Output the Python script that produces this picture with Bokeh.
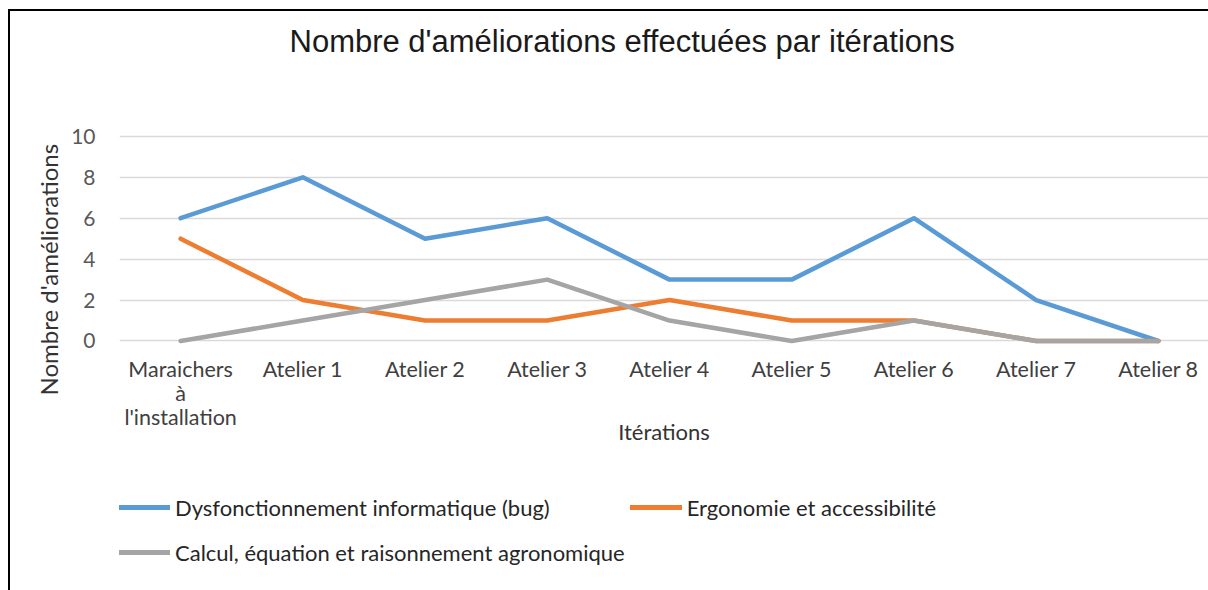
from bokeh.plotting import figure
from bokeh.layouts import column
from bokeh.models import Range1d, FixedTicker, Legend, LegendItem, Title
from bokeh.embed import file_html
from bokeh.resources import INLINE

categories = ["Maraichers\nà\nl'installation", "Atelier 1", "Atelier 2", "Atelier 3",
              "Atelier 4", "Atelier 5", "Atelier 6", "Atelier 7", "Atelier 8"]
bug = [6, 8, 5, 6, 3, 3, 6, 2, 0]
ergo = [5, 2, 1, 1, 2, 1, 1, 0, 0]
calc = [0, 1, 2, 3, 1, 0, 1, 0, 0]
y_ticks = [0, 2, 4, 6, 8, 10]
series_names = ["Dysfonctionnement informatique (bug)",
                "Ergonomie et accessibilité",
                "Calcul, équation et raisonnement agronomique"]
series_colors = ["#5B9BD5", "#ED7D31", "#A5A5A5"]

FONT = "Lato"
x = list(range(len(categories)))

p = figure(width=1208, height=470, output_backend="svg", toolbar_location=None,
           x_range=Range1d(-0.5, 8.41), y_range=Range1d(-0.22, 12.83),
           min_border_left=119, min_border_right=0, min_border_top=78,
           min_border_bottom=125)
p.border_fill_color = None
p.background_fill_color = None
p.outline_line_color = None

p.title.text = "Nombre d'améliorations effectuées par itérations"
p.title.text_font = "Liberation Sans"
p.title.text_font_size = "31px"
p.title.text_font_style = "normal"
p.title.text_color = "#1a1a1a"
p.title.align = "left"
p.title.offset = 170
p.title.standoff = 40

for vals, col in zip([bug, ergo, calc], series_colors):
    p.line(x, vals, line_color=col, line_width=4.5, line_join="round", line_cap="round")

p.xaxis.ticker = FixedTicker(ticks=x)
p.xaxis.major_label_overrides = {i: c for i, c in enumerate(categories)}
p.xaxis.axis_line_color = None
p.xaxis.major_tick_line_color = None
p.xaxis.minor_tick_line_color = None
p.xaxis.major_label_text_font = FONT
p.xaxis.major_label_text_font_size = "21.5px"
p.xaxis.major_label_text_color = "#404040"
p.xaxis.major_label_text_line_height = 0.93
p.xaxis.major_label_standoff = 4
p.xaxis.axis_label = "Itérations"
p.xaxis.axis_label_text_font = FONT
p.xaxis.axis_label_text_font_size = "22px"
p.xaxis.axis_label_text_font_style = "normal"
p.xaxis.axis_label_text_color = "#333333"
p.xaxis.axis_label_standoff = -15

p.yaxis.ticker = FixedTicker(ticks=y_ticks)
p.yaxis.axis_line_color = None
p.yaxis.major_tick_line_color = None
p.yaxis.minor_tick_line_color = None
p.yaxis.major_label_text_font = FONT
p.yaxis.major_label_text_font_size = "21px"
p.yaxis.major_label_text_color = "#595959"
p.yaxis.major_label_standoff = 18

p.xgrid.grid_line_color = None
p.ygrid.grid_line_color = "#d9d9d9"
p.ygrid.grid_line_width = 1.3

ytitle = Title(text="Nombre d'améliorations", align="left", offset=-50,
               text_font=FONT, text_font_size="24px", text_font_style="normal",
               text_color="#333333", standoff=12)
p.add_layout(ytitle, "left")

# legend panel: a second figure whose (off-view) proxy lines carry the series styles
lg = figure(width=1208, height=120, output_backend="svg", toolbar_location=None,
            x_axis_location=None, y_axis_location=None,
            x_range=Range1d(-0.5, 8.41), y_range=Range1d(100, 101),
            min_border_left=0, min_border_right=0, min_border_top=0, min_border_bottom=0)
lg.border_fill_color = None
lg.background_fill_color = None
lg.outline_line_color = None
lg.xgrid.grid_line_color = None
lg.ygrid.grid_line_color = None
proxies = [lg.line(x, vals, line_color=c, line_width=5, line_cap="round")
           for vals, c in zip([bug, ergo, calc], series_colors)]

legend = Legend(items=[LegendItem(label=n, renderers=[r]) for n, r in zip(series_names, proxies)],
                orientation="horizontal", ncols=2)
legend.location = (-1, 18)
legend.margin = 0
legend.padding = 0
legend.spacing = 5
legend.glyph_width = 52
legend.glyph_height = 40
legend.label_height = 40
legend.label_standoff = 5
legend.label_text_font = FONT
legend.label_text_font_size = "22px"
legend.label_text_color = "#262626"
legend.border_line_color = None
legend.background_fill_alpha = 0
lg.add_layout(legend)

layout = column(p, lg, spacing=0)
layout.styles = {"box-shadow": "inset 8px 9px 0 0 #fff, inset 10px 11px 0 0 #000"}

open("out.html", "w").write(file_html(layout, INLINE))
